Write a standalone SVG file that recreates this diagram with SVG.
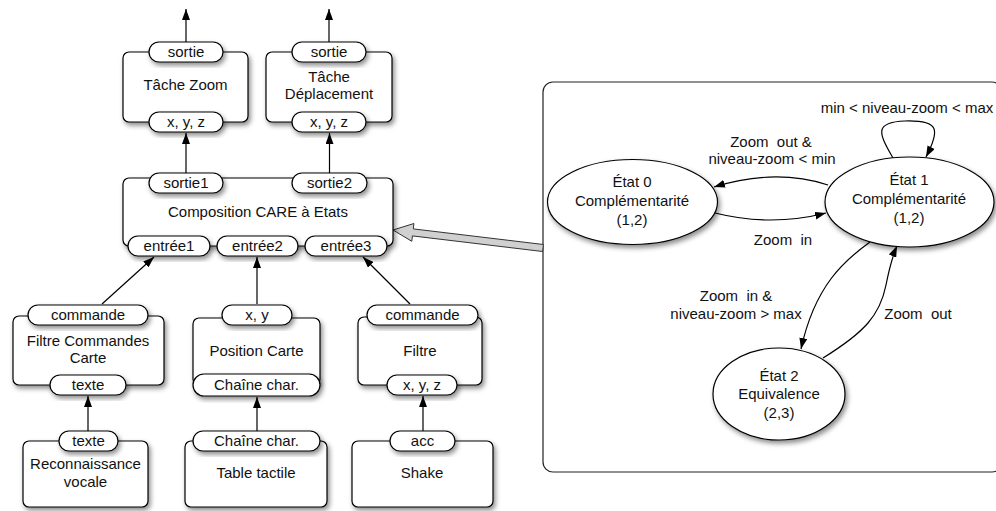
<svg xmlns="http://www.w3.org/2000/svg" width="996" height="511" viewBox="0 0 996 511">
<style>
text{font-family:"Liberation Sans",Arial,Helvetica,sans-serif;font-size:15px;fill:#111;text-anchor:middle;white-space:pre}
.box{fill:#fff;stroke:#000;stroke-width:1.2}
.pill{fill:#fff;stroke:#000;stroke-width:1.2}
.st{fill:#fff;stroke:#000;stroke-width:1.2}
.c{fill:none;stroke:#000;stroke-width:1.2;marker-end:url(#ah)}
.sh{filter:url(#sh)}
</style>
<defs>
<filter id="sh" x="-20%" y="-20%" width="140%" height="150%">
<feDropShadow dx="2" dy="3" stdDeviation="2.5" flood-color="#000" flood-opacity="0.45"/>
</filter>
<marker id="ah" viewBox="0 0 11 8" refX="11" refY="4" markerWidth="11" markerHeight="8" markerUnits="userSpaceOnUse" orient="auto">
<path d="M0,0 L11,4 L0,8 z" fill="#000"/>
</marker>
</defs>
<rect id="panel" x="543" y="82" width="459" height="390" rx="10" fill="#fff" stroke="#222" stroke-width="1.2"/>
<g id="connectors">
<path class="c" d="M186 42 V9"/>
<path class="c" d="M329 42 V9"/>
<path class="c" d="M186 173 V133"/>
<path class="c" d="M329.5 173 V133"/>
<path class="c" d="M102 304 L154 257"/>
<path class="c" d="M257 304 V257"/>
<path class="c" d="M410 304 L363 257"/>
<path class="c" d="M88 431 V396"/>
<path class="c" d="M257 431 V397"/>
<path class="c" d="M423 431 V396"/>
<polygon points="393,230 413.9,223.5 413.3,228.9 543.4,244.5 542.6,251.5 412.4,235.9 411.8,241.3" fill="#d0d0d0" stroke="#333" stroke-width="1"/>
<path class="c" d="M828 185 Q 775 168 714 187"/>
<path class="c" d="M715 213 Q 771 227 826 213"/>
<path class="c" d="M893 158 C 880 135, 872 122, 905 121 C 940 120, 940 130, 926 157"/>
<path class="c" d="M870 242 C 845 260, 815 285, 801 349"/>
<path class="c" d="M823 358 C 865 332, 880 315, 886 285 C 890 265, 893 255, 897 246"/>
</g>
<g id="labels">
<text x="907" y="113">min &lt; niveau-zoom &lt; max</text>
<text x="771" y="147">Zoom  out &amp;</text>
<text x="772" y="164">niveau-zoom &lt; min</text>
<text x="783" y="245">Zoom  in</text>
<text x="736" y="301">Zoom  in &amp;</text>
<text x="736" y="319">niveau-zoom &gt; max</text>
<text x="918" y="319">Zoom  out</text>
</g>
<g id="tache-zoom">
<rect class="box sh" x="123" y="52" width="125" height="70" rx="6"/>
<rect class="pill sh" x="149" y="42" width="74" height="20" rx="10"/>
<rect class="pill sh" x="149" y="112" width="74" height="20" rx="10"/>
<text x="186" y="57">sortie</text>
<text x="185.5" y="90">Tâche Zoom</text>
<text x="186" y="127">x, y, z</text>
</g>
<g id="tache-deplacement">
<rect class="box sh" x="266" y="52" width="126" height="70" rx="6"/>
<rect class="pill sh" x="292" y="42" width="74" height="20" rx="10"/>
<rect class="pill sh" x="292" y="112" width="74" height="20" rx="10"/>
<text x="329" y="57">sortie</text>
<text x="329" y="82">Tâche</text>
<text x="329" y="99">Déplacement</text>
<text x="329" y="127">x, y, z</text>
</g>
<g id="composition">
<rect class="box sh" x="123" y="178" width="270" height="68" rx="6"/>
<rect class="pill sh" x="149" y="173" width="74" height="20" rx="10"/>
<rect class="pill sh" x="292" y="173" width="75" height="20" rx="10"/>
<rect class="pill sh" x="128" y="236" width="82" height="20" rx="10"/>
<rect class="pill sh" x="217" y="236" width="81" height="20" rx="10"/>
<rect class="pill sh" x="305" y="236" width="82" height="20" rx="10"/>
<text x="186" y="188">sortie1</text>
<text x="329.5" y="188">sortie2</text>
<text x="258" y="217">Composition CARE à Etats</text>
<text x="169" y="251">entrée1</text>
<text x="257.5" y="251">entrée2</text>
<text x="346" y="251">entrée3</text>
</g>
<g id="filtre-commandes">
<rect class="box sh" x="13" y="316" width="151" height="69" rx="6"/>
<rect class="pill sh" x="28" y="305" width="120" height="20" rx="10"/>
<rect class="pill sh" x="50" y="375" width="76" height="20" rx="10"/>
<text x="88" y="320">commande</text>
<text x="88" y="346">Filtre Commandes</text>
<text x="88" y="363">Carte</text>
<text x="88" y="390">texte</text>
</g>
<g id="position-carte">
<rect class="box sh" x="193" y="318" width="127" height="67" rx="6"/>
<rect class="pill sh" x="222" y="305" width="70" height="20" rx="10"/>
<rect class="pill sh" x="193" y="374" width="127" height="22" rx="11"/>
<text x="257" y="320">x, y</text>
<text x="256.5" y="356">Position Carte</text>
<text x="256.5" y="390">Chaîne char.</text>
</g>
<g id="filtre">
<rect class="box sh" x="358" y="317" width="124" height="68" rx="6"/>
<rect class="pill sh" x="367" y="305" width="111" height="20" rx="10"/>
<rect class="pill sh" x="387" y="375" width="70" height="20" rx="10"/>
<text x="422.5" y="320">commande</text>
<text x="420" y="356">Filtre</text>
<text x="422" y="390">x, y, z</text>
</g>
<g id="reconnaissance">
<rect class="box sh" x="23" y="441" width="125" height="66" rx="6"/>
<rect class="pill sh" x="59" y="431" width="59" height="20" rx="10"/>
<text x="88.5" y="446">texte</text>
<text x="85.5" y="469">Reconnaissance</text>
<text x="85.5" y="487">vocale</text>
</g>
<g id="table-tactile">
<rect class="box sh" x="185" y="441" width="142" height="66" rx="6"/>
<rect class="pill sh" x="193" y="431" width="127" height="20" rx="10"/>
<text x="256.5" y="446">Chaîne char.</text>
<text x="256" y="478">Table tactile</text>
</g>
<g id="shake">
<rect class="box sh" x="352" y="441" width="141" height="66" rx="6"/>
<rect class="pill sh" x="390" y="431" width="65" height="20" rx="10"/>
<text x="422.5" y="446">acc</text>
<text x="422" y="478">Shake</text>
</g>
<g id="etat0">
<ellipse class="st sh" cx="632.5" cy="202" rx="85" ry="42.5"/>
<text x="632" y="187">État 0</text>
<text x="632" y="206">Complémentarité</text>
<text x="632" y="225">(1,2)</text>
</g>
<g id="etat1">
<ellipse class="st sh" cx="909.5" cy="202" rx="84.5" ry="45"/>
<text x="909" y="185">État 1</text>
<text x="909" y="204">Complémentarité</text>
<text x="909" y="223">(1,2)</text>
</g>
<g id="etat2">
<ellipse class="st sh" cx="779" cy="394" rx="66" ry="46"/>
<text x="779" y="381">État 2</text>
<text x="779" y="399">Equivalence</text>
<text x="779" y="418">(2,3)</text>
</g>
</svg>
